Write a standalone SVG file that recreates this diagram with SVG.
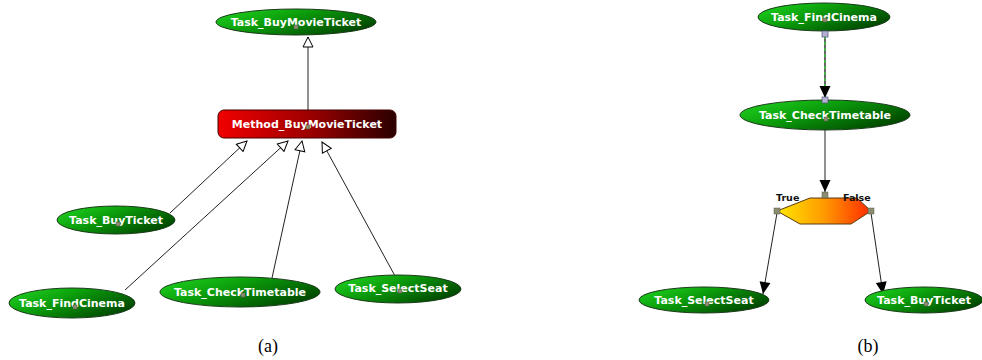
<svg xmlns="http://www.w3.org/2000/svg" width="982" height="360" viewBox="0 0 982 360">
  <defs>
    <linearGradient id="gTask" x1="0" y1="0" x2="1" y2="0.6">
      <stop offset="0" stop-color="#22d822"/>
      <stop offset="0.45" stop-color="#0ca00c"/>
      <stop offset="1" stop-color="#004a00"/>
    </linearGradient>
    <linearGradient id="gMethod" x1="0" y1="0" x2="1" y2="0">
      <stop offset="0" stop-color="#f00000"/>
      <stop offset="0.5" stop-color="#a00000"/>
      <stop offset="1" stop-color="#2a0000"/>
    </linearGradient>
    <linearGradient id="gCond" x1="0" y1="0" x2="1" y2="0">
      <stop offset="0" stop-color="#ffe800"/>
      <stop offset="0.5" stop-color="#ff9a00"/>
      <stop offset="1" stop-color="#ff2a00"/>
    </linearGradient>
    <marker id="hollow" markerWidth="12" markerHeight="12" refX="11" refY="6" orient="auto" markerUnits="userSpaceOnUse">
      <path d="M1,1 L11,6 L1,11 Z" fill="#fff" stroke="#000" stroke-width="1"/>
    </marker>
    <marker id="solid" markerWidth="14" markerHeight="14" refX="13" refY="7" orient="auto" markerUnits="userSpaceOnUse">
      <path d="M1,1.5 L13,7 L1,12.5 Z" fill="#000"/>
    </marker>
  </defs>
  <style>
    .task { fill: url(#gTask); stroke: #1a3a1a; stroke-width: 1; }
    .lbl { font-family: "DejaVu Sans", Verdana, sans-serif; font-weight: bold; font-size: 11px; fill: #fff; text-anchor: middle; }
    .pin { fill: #8c8c70; stroke: #5a5a48; stroke-width: 0.5; }
    .port { fill: #b0b0d0; stroke: #55557a; stroke-width: 0.7; }
    .edge { stroke: #222; stroke-width: 1; fill: none; }
    .cap { font-family: "Liberation Serif", "Times New Roman", serif; font-size: 18px; fill: #000; text-anchor: middle; }
    .tf { font-family: "DejaVu Sans", Verdana, sans-serif; font-weight: bold; font-size: 9.5px; fill: #111; }
  </style>

  <!-- connectors -->
  <g id="connectors">
    <!-- (a) decomposition links into the method -->
    <line class="edge" x1="308" y1="110" x2="308" y2="37" marker-end="url(#hollow)"/>
    <line class="edge" x1="170" y1="213" x2="247" y2="141" marker-end="url(#hollow)"/>
    <line class="edge" x1="125" y1="290" x2="288" y2="141" marker-end="url(#hollow)"/>
    <line class="edge" x1="272" y1="278" x2="302" y2="141" marker-end="url(#hollow)"/>
    <line class="edge" x1="395" y1="276" x2="322" y2="142" marker-end="url(#hollow)"/>
    <!-- (b) control flow -->
    <line x1="825" y1="36" x2="825" y2="98" stroke="#000" stroke-width="1.2"/>
    <line x1="825" y1="36" x2="825" y2="98" stroke="#2fe02f" stroke-width="1.2" stroke-dasharray="3,3" marker-end="url(#solid)"/>
    <line class="edge" x1="825" y1="130" x2="825" y2="192" marker-end="url(#solid)"/>
    <line class="edge" x1="777" y1="213" x2="763" y2="294" marker-end="url(#solid)"/>
    <line class="edge" x1="871" y1="213" x2="883" y2="294" marker-end="url(#solid)"/>
  </g>

  <!-- (a) -->
  <g id="a_buyMovieTicket">
    <ellipse class="task" cx="296" cy="22" rx="80" ry="13"/>
    <text class="lbl" x="296" y="26">Task_BuyMovieTicket</text>
    <rect class="pin" x="294" y="25" width="4" height="4"/>
  </g>
  <g id="a_method">
    <rect x="218" y="110" width="178" height="28" rx="6" fill="url(#gMethod)" stroke="#400" stroke-width="1"/>
    <text class="lbl" x="307" y="128">Method_BuyMovieTicket</text>
    <rect class="pin" x="306" y="125" width="4" height="4"/>
  </g>
  <g id="a_buyTicket">
    <ellipse class="task" cx="116" cy="220" rx="59" ry="14"/>
    <text class="lbl" x="116" y="224">Task_BuyTicket</text>
    <rect class="pin" x="116" y="222" width="4" height="4"/>
  </g>
  <g id="a_findCinema">
    <ellipse class="task" cx="72" cy="303" rx="63" ry="15"/>
    <text class="lbl" x="72" y="307">Task_FindCinema</text>
    <rect class="pin" x="73" y="305" width="4" height="4"/>
  </g>
  <g id="a_checkTimetable">
    <ellipse class="task" cx="240" cy="292" rx="80" ry="15"/>
    <text class="lbl" x="240" y="296">Task_CheckTimetable</text>
    <rect class="pin" x="241" y="293" width="4" height="4"/>
  </g>
  <g id="a_selectSeat">
    <ellipse class="task" cx="398" cy="289" rx="63" ry="14"/>
    <text class="lbl" x="398" y="292">Task_SelectSeat</text>
    <rect class="pin" x="398" y="289" width="4" height="4"/>
  </g>

  <!-- (b) -->
  <g id="b_findCinema">
    <ellipse class="task" cx="824" cy="17" rx="66" ry="14"/>
    <text class="lbl" x="824" y="21">Task_FindCinema</text>
    <rect class="pin" x="823" y="18" width="4" height="4"/>
    <rect class="port" x="822" y="31" width="6" height="6"/>
  </g>
  <g id="b_checkTimetable">
    <ellipse class="task" cx="825" cy="115" rx="85" ry="15"/>
    <text class="lbl" x="825" y="119">Task_CheckTimetable</text>
    <rect class="pin" x="824" y="117" width="4" height="4"/>
    <rect class="port" x="822" y="97" width="6" height="6"/>
  </g>
  <g id="b_condition">
    <polygon points="777,211 810,198 857,198 871,211 851,224 800,224" fill="url(#gCond)" stroke="#5a3a10" stroke-width="1"/>
    <rect class="pin" x="822" y="192" width="6" height="6"/>
    <rect class="pin" x="774" y="208" width="6" height="6"/>
    <rect class="pin" x="868" y="208" width="6" height="6"/>
    <text class="tf" x="776" y="201">True</text>
    <text class="tf" x="843" y="201">False</text>
  </g>
  <g id="b_selectSeat">
    <ellipse class="task" cx="704" cy="300" rx="65" ry="13"/>
    <text class="lbl" x="704" y="304">Task_SelectSeat</text>
    <rect class="pin" x="705" y="302" width="4" height="4"/>
  </g>
  <g id="b_buyTicket">
    <ellipse class="task" cx="924" cy="300" rx="59" ry="13"/>
    <text class="lbl" x="924" y="304">Task_BuyTicket</text>
    <rect class="pin" x="924" y="302" width="4" height="4"/>
  </g>

  <text class="cap" x="268" y="352">(a)</text>
  <text class="cap" x="868" y="352">(b)</text>
</svg>
